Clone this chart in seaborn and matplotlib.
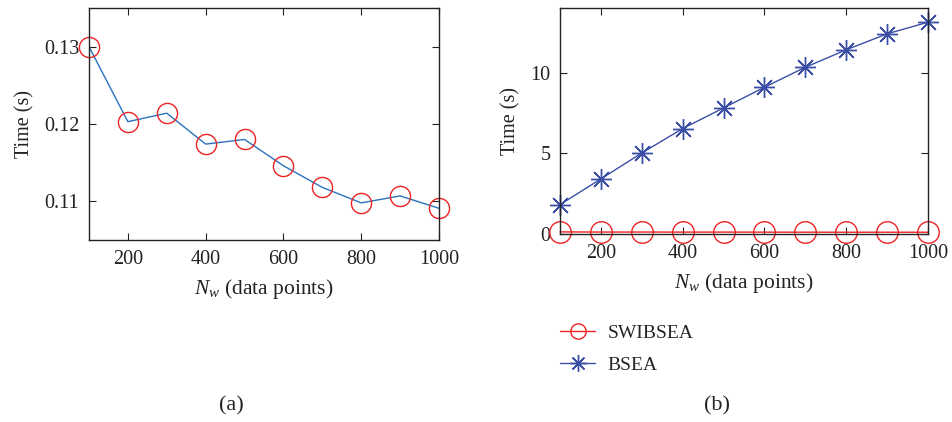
import matplotlib
matplotlib.use("Agg")
import matplotlib.pyplot as plt
import seaborn as sns
import pandas as pd
from matplotlib.lines import Line2D

n_w = [100, 200, 300, 400, 500, 600, 700, 800, 900, 1000]
swibsea_time = [0.1300, 0.1203, 0.1214, 0.1174, 0.1180, 0.1146, 0.1118, 0.1098, 0.1107, 0.1091]
bsea_time = [1.82, 3.41, 5.02, 6.53, 7.81, 9.09, 10.33, 11.41, 12.40, 13.12]
x_ticks = [200, 400, 600, 800, 1000]
left_yticks = [0.11, 0.12, 0.13]
right_yticks = [0, 5, 10]

sns.set_theme(style="white")
plt.rcParams['font.family'] = ['Liberation Serif', 'DejaVu Serif']
plt.rcParams['mathtext.fontset'] = 'custom'
plt.rcParams['mathtext.it'] = 'Liberation Serif:italic'
plt.rcParams['mathtext.rm'] = 'Liberation Serif'

df = pd.DataFrame({"n": n_w, "swib": swibsea_time, "bsea": bsea_time})

fig = plt.figure(figsize=(9.52, 4.22), dpi=100)
ax1 = fig.add_axes([89/952, 1-240/422, 350/952, 232/422])
ax2 = fig.add_axes([560/952, 1-234/422, 368/952, 226/422])

line_blue = "#2a72c0"
red = "#ee2222"
dark_blue = "#3a4ea6"
tick_fs = 14.5
label_fs = 14.5

# (a)
sns.lineplot(data=df, x="n", y="swib", ax=ax1, color=line_blue, linewidth=1.0)
sns.lineplot(data=df, x="n", y="swib", ax=ax1, color=red, linestyle="", marker="o",
             markersize=14.5, markerfacecolor="none", markeredgecolor=red, markeredgewidth=1.0,
             clip_on=False)
ax1.set_xlim(100, 1000)
ax1.set_ylim(0.105, 0.135)
ax1.set_xticks(x_ticks)
ax1.set_yticks(left_yticks)
ax1.set_yticklabels([f"{v:.2f}" for v in left_yticks])

# (b)
sns.lineplot(data=df, x="n", y="swib", ax=ax2, color=red, linewidth=1.0, marker="o",
             markersize=15.5, markerfacecolor="none", markeredgecolor=red, markeredgewidth=1.0,
             clip_on=False)
sns.lineplot(data=df, x="n", y="bsea", ax=ax2, color=dark_blue, linewidth=1.0, marker=(8, 2, 0),
             markersize=15, markeredgecolor=dark_blue, markeredgewidth=1.0, clip_on=False)
ax2.set_xlim(100, 1000)
ax2.set_ylim(0, 14)
ax2.set_xticks(x_ticks)
ax2.set_yticks(right_yticks)

for ax in (ax1, ax2):
    for s in ax.spines.values():
        s.set_visible(True)
        s.set_color("#222222")
        s.set_linewidth(1.0)
    ax.tick_params(direction="in", length=5, width=0.8, top=True, right=True,
                   bottom=True, left=True, labelsize=tick_fs, colors="#222222", pad=7)
    ax.set_xlabel(r"$N_w$ (data points)", fontsize=15.5, color="#222222", labelpad=6)
    ax.set_ylabel("Time (s)", fontsize=label_fs, color="#222222", labelpad=7)
    ax.grid(False)

handles = [
    Line2D([], [], color=red, linewidth=1.0, marker="o", markersize=11,
           markerfacecolor="none", markeredgecolor=red),
    Line2D([], [], color=dark_blue, linewidth=1.0, marker=(8, 2, 0), markersize=12,
           markeredgecolor=dark_blue),
]
fig.legend(handles, ["SWIBSEA", "BSEA"], loc="upper left", bbox_to_anchor=(560/952, 1-324/422),
           frameon=False, fontsize=14, handlelength=1.8, labelspacing=0.75, handletextpad=0.65,
           borderpad=0, borderaxespad=0)

fig.text(231/952, 1-406/422, "(a)", ha="center", va="center", fontsize=16, color="#222222")
fig.text(717/952, 1-406/422, "(b)", ha="center", va="center", fontsize=16, color="#222222")

fig.savefig("out.png", dpi=100)
